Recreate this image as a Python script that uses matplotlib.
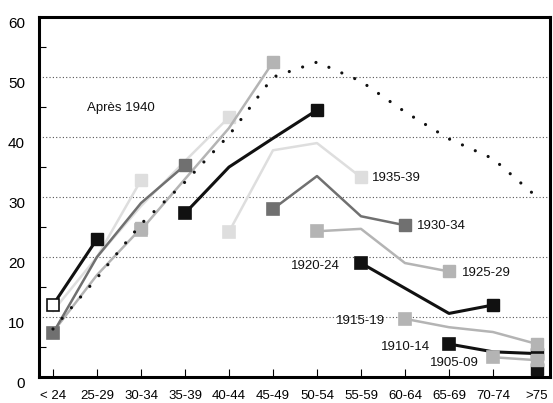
import numpy as np
import matplotlib
matplotlib.use("Agg")
import matplotlib.pyplot as plt

plt.rcParams['font.family'] = ['Liberation Sans', 'DejaVu Sans']

nan = np.nan
ages = ['< 24', '25-29', '30-34', '35-39', '40-44', '45-49', '50-54',
        '55-59', '60-64', '65-69', '70-74', '>75']

# one list per birth cohort, value by age group (nan = not observed)
c1965 = [12, 23, nan, nan, nan, nan, nan, nan, nan, nan, nan, nan]
c1960 = [11, 20, 32.8, nan, nan, nan, nan, nan, nan, nan, nan, nan]
c1960b = [7.5, 17, 24.8, nan, nan, nan, nan, nan, nan, nan, nan, nan]
c1955 = [7.3, 20, 29, 35.3, nan, nan, nan, nan, nan, nan, nan, nan]
c1950 = [nan, 20, 28.5, 36, 43.3, nan, nan, nan, nan, nan, nan, nan]
c1945 = [nan, nan, 24.5, 33, 41.5, 52.5, nan, nan, nan, nan, nan, nan]
c1940 = [nan, nan, nan, 27.3, 35, 39.8, 44.5, nan, nan, nan, nan, nan]
c1935 = [nan, nan, nan, nan, 24.2, 37.8, 39, 33.3, nan, nan, nan, nan]
c1930 = [nan, nan, nan, nan, nan, 28, 33.5, 26.8, 25.3, nan, nan, nan]
c1925 = [nan, nan, nan, nan, nan, nan, 24.3, 24.7, 19, 17.6, nan, nan]
c1920 = [nan, nan, nan, nan, nan, nan, nan, 19, 14.8, 10.6, 12, nan]
c1915 = [nan, nan, nan, nan, nan, nan, nan, nan, 9.7, 8.3, 7.5, 5.5]
c1910 = [nan, nan, nan, nan, nan, nan, nan, nan, nan, 5.5, 4.2, 3.9]
c1905 = [nan, nan, nan, nan, nan, nan, nan, nan, nan, nan, 3.3, 2.8]
c1900 = [nan, nan, nan, nan, nan, nan, nan, nan, nan, nan, nan, 1.3]
# dotted curve
overall = [8, 16.5, 25.5, 32.5, 40.3, 50, 52.5, 49.3, 44.2, 39.7, 36.4, 30]

BLACK = '#111111'
DARK = '#707070'
LIGHT = '#b4b4b4'
VLIGHT = '#dedede'

fig = plt.figure(figsize=(5.53, 4.03), dpi=100)
ax = fig.add_axes([0.0705, 0.0645, 0.924, 0.893])
x = np.arange(len(ages))


def cohort(vals, color, lw, start=None, end=True, z=2):
    v = np.array(vals, dtype=float)
    ok = ~np.isnan(v)
    ax.plot(x[ok], v[ok], color=color, lw=lw, zorder=z, solid_joinstyle='round')
    idx = np.where(ok)[0]
    if start is not None:
        ax.plot(x[idx[0]], v[idx[0]], 's', ms=8.5, mfc=start, mec=color if start != 'white' else BLACK,
                mew=1.2, zorder=z + 0.5)
    if end:
        ax.plot(x[idx[-1]], v[idx[-1]], 's', ms=8.5, mfc=color, mec=color, zorder=z + 0.5)


cohort(c1960, VLIGHT, 1.8, z=2)
cohort(c1950, VLIGHT, 1.8, z=2)
cohort(c1935, VLIGHT, 1.8, start=VLIGHT, z=2)
cohort(c1960b, LIGHT, 1.8, z=3)
cohort(c1945, LIGHT, 1.8, start=LIGHT, z=3)
cohort(c1925, LIGHT, 1.8, start=LIGHT, z=3)
cohort(c1955, DARK, 1.8, start=DARK, z=4)
cohort(c1930, DARK, 1.8, start=DARK, z=4)
cohort(c1965, BLACK, 2.2, start='white', z=5)
cohort(c1940, BLACK, 2.2, start=BLACK, z=5)
cohort(c1920, BLACK, 2.2, start=BLACK, z=5)
cohort(c1910, BLACK, 2.2, start=BLACK, z=5)
cohort(c1900, BLACK, 2.2, z=5)
cohort(c1915, LIGHT, 1.8, start=LIGHT, z=6)
cohort(c1905, LIGHT, 1.8, start=LIGHT, z=6)

ax.plot(x, overall, color=BLACK, lw=2.3, linestyle=(0, (0.01, 4.4)),
        dash_capstyle='round', zorder=7)

lab = dict(fontsize=9.5, color=BLACK, va='center', zorder=8)
ax.text(0.77, 44.8, 'Après 1940', ha='left', **lab)
ax.text(7.25, 33.2, '1935-39', ha='left', **lab)
ax.text(8.27, 25.2, '1930-34', ha='left', **lab)
ax.text(9.3, 17.3, '1925-29', ha='left', **lab)
ax.text(6.52, 18.5, '1920-24', ha='right', **lab)
ax.text(7.55, 9.3, '1915-19', ha='right', **lab)
ax.text(8.57, 5.0, '1910-14', ha='right', **lab)
ax.text(8.57, 2.3, '1905-09', ha='left', **lab)

ax.set_xlim(-0.318, 11.295)
ax.set_ylim(0, 60)
ax.set_xticks(x)
ax.set_xticklabels(ages, fontsize=9.5)
ax.set_yticks(range(0, 61, 10))
ax.set_yticks(range(5, 60, 10), minor=True)
ax.tick_params(axis='y', which='major', length=0, pad=10, labelsize=11)
ax.tick_params(axis='y', which='minor', direction='in', length=5, width=0.8)
ax.tick_params(axis='x', direction='in', length=6, width=0.8, pad=9)
for t in ax.get_yticklabels():
    t.set_va('top')
ax.yaxis.grid(True, which='major', linestyle=(0, (1, 2)), color='#555555', lw=0.8)
ax.set_axisbelow(True)
for s in ax.spines.values():
    s.set_linewidth(2.2)

fig.savefig('out.png', dpi=100)
